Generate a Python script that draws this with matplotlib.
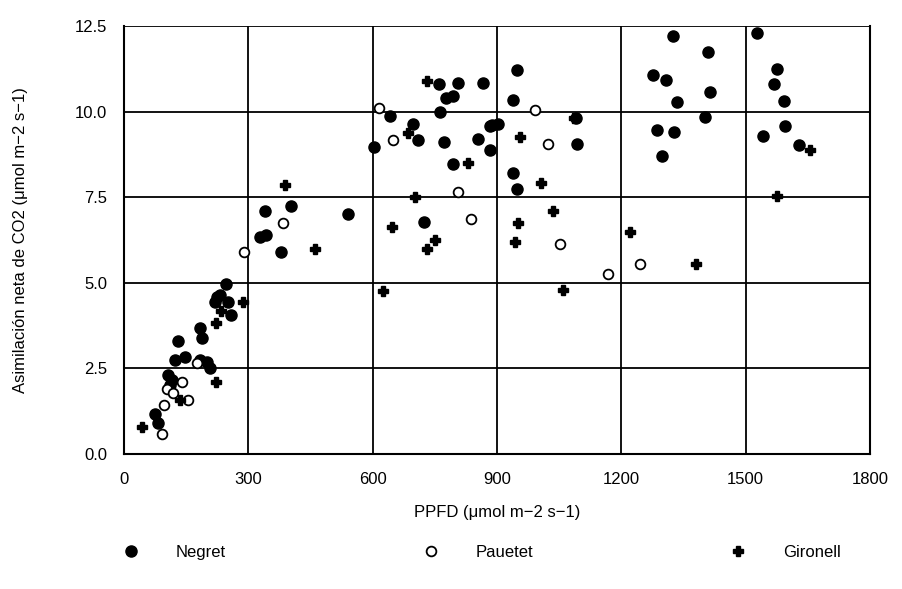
import matplotlib
matplotlib.use("Agg")
import matplotlib.pyplot as plt

plt.rcParams['font.family'] = ['Liberation Sans', 'DejaVu Sans']

# Negret (filled circles)
negret_x = [75, 83, 107, 115, 111, 123, 147, 131, 183, 201, 208, 183, 188,
            220, 224, 232, 246, 252, 258, 339, 403, 328, 343, 378, 541,
            604, 641, 698, 709, 773, 761, 806, 777, 795, 763, 866, 855,
            884, 884, 888, 903, 939, 949, 939, 949, 793, 724, 1094, 1090,
            1276, 1308, 1334, 1415, 1403, 1286, 1328, 1298, 1325, 1410,
            1528, 1576, 1568, 1592, 1596, 1543, 1628]
negret_y = [1.17, 0.90, 2.31, 2.16, 2.02, 2.75, 2.83, 3.30, 2.75, 2.70, 2.50, 3.68, 3.38,
            4.45, 4.60, 4.65, 4.97, 4.45, 4.06, 7.11, 7.23, 6.34, 6.40, 5.89, 7.02,
            8.97, 9.86, 9.64, 9.16, 9.10, 10.79, 10.82, 10.40, 10.45, 9.98, 10.82, 9.20,
            9.57, 8.89, 9.60, 9.65, 10.35, 11.20, 8.20, 7.75, 8.48, 6.77, 9.05, 9.80,
            11.08, 10.92, 10.29, 10.58, 9.84, 9.47, 9.40, 8.69, 12.20, 11.75,
            12.30, 11.23, 10.79, 10.30, 9.59, 9.28, 9.01]

# Pauetet (open circles)
pauetet_x = [92, 97, 103, 119, 139, 155, 177, 290, 383, 616, 650, 806, 838,
             992, 1024, 1053, 1168, 1246]
pauetet_y = [0.58, 1.43, 1.89, 1.77, 2.10, 1.58, 2.65, 5.89, 6.76, 10.10, 9.18, 7.65, 6.86,
             10.05, 9.05, 6.12, 5.25, 5.56]

# Gironell (crosses)
gironell_x = [43, 135, 222, 221, 234, 287, 389, 461, 626, 646, 686, 701, 732,
              731, 751, 831, 955, 1005, 1036, 951, 944, 1085, 1060, 1222, 1379,
              1576, 1656]
gironell_y = [0.78, 1.58, 2.11, 3.82, 4.18, 4.43, 7.87, 6.00, 4.75, 6.62, 9.36, 7.52, 10.89,
              6.00, 6.26, 8.50, 9.25, 7.90, 7.10, 6.75, 6.20, 9.80, 4.80, 6.47, 5.55,
              7.54, 8.89]

x_ticks = [0, 300, 600, 900, 1200, 1500, 1800]
y_ticks = [0.0, 2.5, 5.0, 7.5, 10.0, 12.5]

fig = plt.figure(figsize=(9.02, 5.89), dpi=100)
ax = fig.add_axes([0.1375, 0.229, 0.827, 0.727])

ax.plot(negret_x, negret_y, 'o', color='black', markersize=8, linestyle='none',
        label='Negret', zorder=3)
ax.plot(pauetet_x, pauetet_y, 'o', markerfacecolor='white', markeredgecolor='black',
        markeredgewidth=1.3, markersize=7, linestyle='none', label='Pauetet', zorder=3)
ax.plot(gironell_x, gironell_y, 'P', color='black', markersize=7, linestyle='none',
        label='Gironell', zorder=3)

ax.set_xlim(0, 1800)
ax.set_ylim(0, 12.5)
ax.set_xticks(x_ticks)
ax.set_yticks(y_ticks)
ax.set_xticklabels([str(t) for t in x_ticks])
ax.set_yticklabels([f'{t:.1f}' for t in y_ticks])
ax.tick_params(axis='x', length=0, labelsize=12, pad=13)
ax.tick_params(axis='y', length=0, labelsize=12, pad=12)
ax.grid(True, color='black', linewidth=1.3)
ax.set_axisbelow(True)

for side in ['left', 'bottom', 'right']:
    ax.spines[side].set_linewidth(1.5)
ax.spines['top'].set_visible(False)

ax.set_xlabel('PPFD (\u03bcmol m\u22122 s\u22121)', fontsize=12, labelpad=13)
ax.set_ylabel('Asimilaci\u00f3n neta de CO2 (\u03bcmol m\u22122 s\u22121)', fontsize=12, labelpad=34)

fig.legend(loc='center', bbox_to_anchor=(0.534, 0.062), ncol=3, frameon=False,
           fontsize=12, columnspacing=11.8, handletextpad=2.2, handlelength=1)

fig.savefig('out.png', dpi=100)
